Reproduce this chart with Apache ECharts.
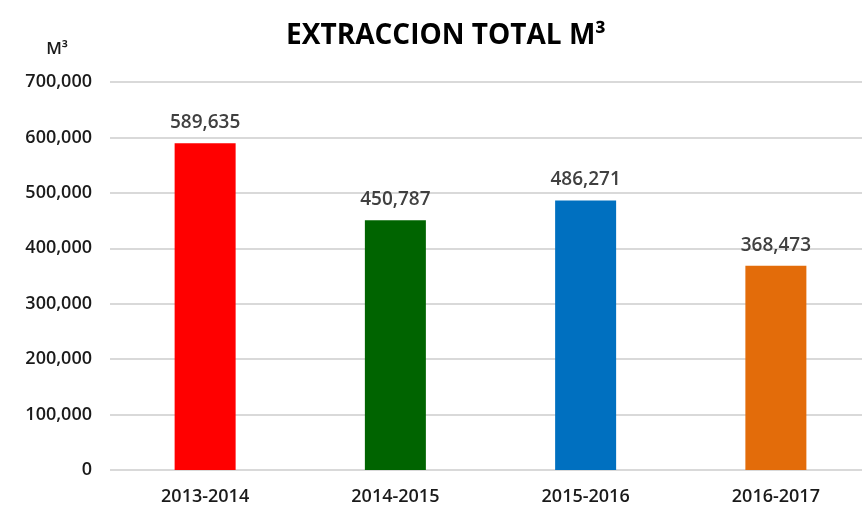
<!DOCTYPE html>
<html>
<head>
<meta charset="utf-8">
<script src="https://cdn.jsdelivr.net/npm/echarts@6/dist/echarts.min.js"></script>
<style>
  html, body { margin: 0; padding: 0; background: #fff; }
  #chart { width: 862px; height: 511px; }
</style>
</head>
<body>
<div id="chart"></div>
<script>
// datos
var periodos = ["2013-2014", "2014-2015", "2015-2016", "2016-2017"];
var extraccion = [589635, 450787, 486271, 368473];
var colores = ["#ff0000", "#006400", "#0070c0", "#e36c0a"];

var fuente = '"Open Sans", sans-serif';

function miles(v) {
  return String(v).replace(/\B(?=(\d{3})+(?!\d))/g, ",");
}

var chart = echarts.init(document.getElementById("chart"));

var option = {
  animation: false,
  title: {
    text: "EXTRACCION TOTAL M³",
    left: 441,
    textAlign: "center",
    top: 17,
    textStyle: {
      fontFamily: fuente,
      fontSize: 28,
      fontWeight: "bold",
      color: "#000"
    }
  },
  grid: {
    left: 110,
    width: 761,
    top: 82,
    bottom: 41,
    outerBoundsMode: "none",
    containLabel: false
  },
  xAxis: {
    type: "category",
    data: periodos,
    axisTick: { show: false },
    axisLine: { show: false },
    axisLabel: {
      margin: 18,
      fontFamily: fuente,
      fontSize: 18,
      fontWeight: 600,
      color: "#1a1a1a"
    }
  },
  yAxis: {
    type: "value",
    min: 0,
    max: 700000,
    interval: 100000,
    name: "M³",
    nameGap: 24,
    nameTextStyle: {
      align: "right",
      padding: [0, 42, 0, 0],
      fontFamily: fuente,
      fontSize: 17,
      fontWeight: 600,
      color: "#1a1a1a"
    },
    axisLine: { show: false },
    axisTick: { show: false },
    splitLine: { lineStyle: { color: "#d9d9d9", width: 2 } },
    axisLabel: {
      margin: 18,
      fontFamily: fuente,
      fontSize: 18,
      fontWeight: 600,
      color: "#1a1a1a",
      formatter: function (v) { return miles(v); }
    }
  },
  series: [
    {
      type: "bar",
      barWidth: 61,
      data: extraccion.map(function (v, i) {
        return { value: v, itemStyle: { color: colores[i] } };
      }),
      label: {
        show: true,
        position: "top",
        distance: 11,
        fontFamily: fuente,
        fontSize: 19,
        fontWeight: 600,
        color: "#404040",
        formatter: function (p) { return miles(p.value); }
      }
    }
  ]
};

chart.setOption(option);
</script>
</body>
</html>
